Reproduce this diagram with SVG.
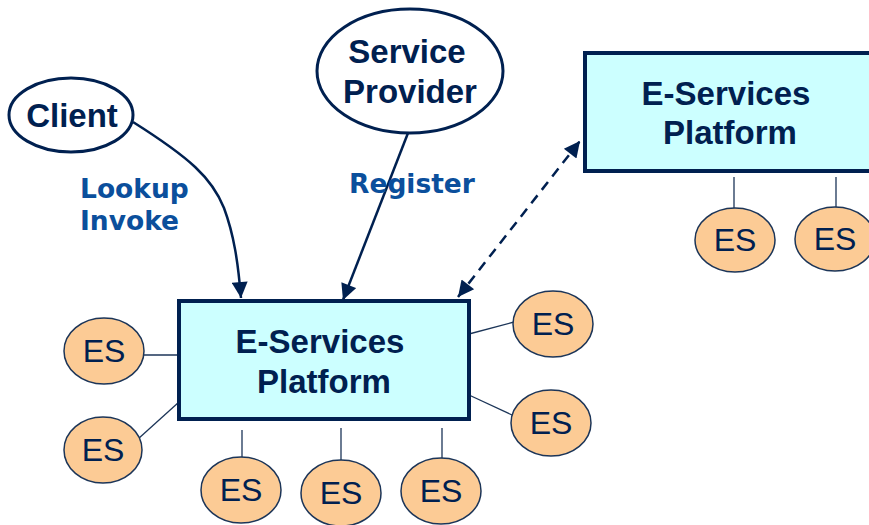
<svg xmlns="http://www.w3.org/2000/svg" width="869" height="525" viewBox="0 0 869 525">
<defs>
<style>
.ov{fill:#fff;stroke:#002050;stroke-width:3}
.pf{fill:#ccffff;stroke:#002050;stroke-width:4}
.es{fill:#fccb95;stroke:#1c3558;stroke-width:1.5}
.ln{stroke:#1c3558;stroke-width:1.3;fill:none}
.nt{font-family:"Liberation Sans",Arial,sans-serif;font-weight:bold;font-size:33px;fill:#002050;text-anchor:middle}
.et{font-family:"Liberation Sans",Arial,sans-serif;font-size:32px;fill:#002050;text-anchor:middle}
.lb{font-family:"DejaVu Sans",Verdana,sans-serif;font-weight:bold;font-size:26.5px;fill:#0b4f9c}
.ar{stroke:#002050;stroke-width:2.5;fill:none}
</style>
<marker id="ah2" viewBox="0 0 10 10" refX="10" refY="5" markerWidth="18" markerHeight="16" markerUnits="userSpaceOnUse" orient="auto-start-reverse">
<path d="M0,0 L10,5 L0,10 Z" fill="#002050"/>
</marker>
</defs>
<rect width="869" height="525" fill="#fff"/>
<g id="connectors">
<path class="ar" d="M133,122 C190,158 212,178 224,208 C234,235 238,262 241,298" marker-end="url(#ah2)"/>
<path class="ar" d="M408,133 L343,300" marker-end="url(#ah2)"/>
<path class="ar" d="M458,297 L580,141" stroke-dasharray="10,7" marker-start="url(#ah2)" marker-end="url(#ah2)"/>
<line class="ln" x1="144" y1="355" x2="179" y2="355"/>
<line class="ln" x1="138" y1="439" x2="179" y2="402"/>
<line class="ln" x1="242" y1="430" x2="242" y2="457"/>
<line class="ln" x1="341" y1="428" x2="341" y2="460"/>
<line class="ln" x1="442" y1="428" x2="442" y2="458"/>
<line class="ln" x1="469" y1="334" x2="514" y2="322"/>
<line class="ln" x1="469" y1="395" x2="512" y2="415"/>
<line class="ln" x1="734" y1="177" x2="734" y2="208"/>
<line class="ln" x1="836" y1="177" x2="836" y2="207"/>
</g>
<g id="labels">
<text class="lb" x="80" y="198">Lookup</text>
<text class="lb" x="80" y="230">Invoke</text>
<text class="lb" x="349" y="193">Register</text>
</g>
<g id="client">
<ellipse class="ov" cx="71" cy="115" rx="62" ry="37"/>
<text class="nt" x="72" y="127">Client</text>
</g>
<g id="provider">
<ellipse class="ov" cx="410" cy="71" rx="93" ry="62"/>
<text class="nt" x="407" y="63">Service</text>
<text class="nt" x="410" y="103">Provider</text>
</g>
<g id="platform1">
<rect class="pf" x="179" y="301" width="290" height="118"/>
<text class="nt" x="320" y="353">E-Services</text>
<text class="nt" x="324" y="393">Platform</text>
</g>
<g id="platform2">
<rect class="pf" x="585" y="53" width="290" height="118"/>
<text class="nt" x="726" y="105">E-Services</text>
<text class="nt" x="730" y="144">Platform</text>
</g>
<g id="es1"><ellipse class="es" cx="104" cy="351" rx="40" ry="33"/><text class="et" x="104" y="362">ES</text></g>
<g id="es2"><ellipse class="es" cx="103" cy="450" rx="39" ry="33"/><text class="et" x="103" y="461">ES</text></g>
<g id="es3"><ellipse class="es" cx="241" cy="490" rx="40" ry="33"/><text class="et" x="241" y="501">ES</text></g>
<g id="es4"><ellipse class="es" cx="341" cy="493" rx="40" ry="33"/><text class="et" x="341" y="504">ES</text></g>
<g id="es5"><ellipse class="es" cx="441" cy="491" rx="40" ry="33"/><text class="et" x="441" y="502">ES</text></g>
<g id="es6"><ellipse class="es" cx="553" cy="324" rx="40" ry="33"/><text class="et" x="553" y="335">ES</text></g>
<g id="es7"><ellipse class="es" cx="551" cy="423" rx="40" ry="33"/><text class="et" x="551" y="434">ES</text></g>
<g id="es8"><ellipse class="es" cx="735" cy="240" rx="40" ry="32"/><text class="et" x="735" y="251">ES</text></g>
<g id="es9"><ellipse class="es" cx="835" cy="239" rx="40" ry="32"/><text class="et" x="835" y="250">ES</text></g>
</svg>
